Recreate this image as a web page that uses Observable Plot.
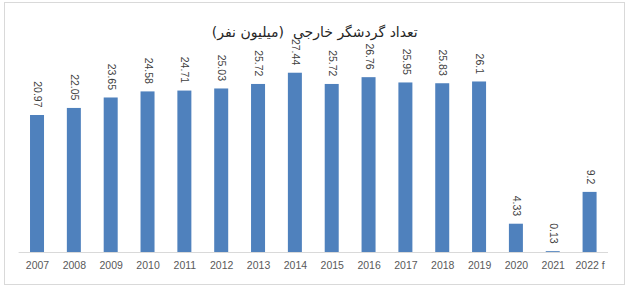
<!DOCTYPE html>
<html>
<head>
<meta charset="utf-8">
<script src="https://cdn.jsdelivr.net/npm/d3@7"></script>
<script src="https://cdn.jsdelivr.net/npm/@observablehq/plot@0.6"></script>
<style>
  html, body { margin: 0; padding: 0; background: #fff; }
  #wrap { position: relative; width: 628px; height: 286px; }
  #border { position: absolute; left: 4px; top: 2px; width: 619px; height: 281px; border: 1px solid #d9d9d9; pointer-events: none; }
</style>
</head>
<body>
<div id="wrap"><div id="border"></div></div>
<script>
const years = ["2007","2008","2009","2010","2011","2012","2013","2014","2015","2016","2017","2018","2019","2020","2021","2022 f"];
const tourists = [20.97, 22.05, 23.65, 24.58, 24.71, 25.03, 25.72, 27.44, 25.72, 26.76, 25.95, 25.83, 26.1, 4.33, 0.13, 9.2];
const title = "تعداد گردشگر خارجی  (میلیون نفر)";

const data = years.map((y, i) => ({year: y, value: tourists[i]}));

const chart = Plot.plot({
  width: 628,
  height: 286,
  marginLeft: 18.6,
  marginRight: 20,
  marginTop: 56,
  marginBottom: 34,
  style: {background: "transparent", fontFamily: "Liberation Sans, Arial, sans-serif"},
  x: {domain: years, paddingInner: 0.62, paddingOuter: 0.31, round: false, label: null, tickSize: 0, tickPadding: 9, fontSize: 10.5},
  y: {domain: [0, 30], axis: null},
  marks: [
    Plot.barY(data, {x: "year", y: "value", fill: "#4f81bd"}),
    Plot.ruleY([0], {stroke: "#d9d9d9", strokeWidth: 1}),
    Plot.text(data, {x: "year", y: "value", text: d => String(d.value), rotate: 90, textAnchor: "end", dy: -8, fill: "#404040", fontSize: 10.5}),
    Plot.text([title], {frameAnchor: "top", dy: -29, dx: 1, text: d => d, fontSize: 14, fill: "#262626", fontFamily: "DejaVu Sans, sans-serif"})
  ]
});
chart.querySelectorAll("g[aria-label='x-axis tick label'] text, g[aria-label='x-axis tick label']").forEach(e => { e.setAttribute("fill", "#595959"); e.style.fontSize = "10.5px"; });
document.getElementById("wrap").prepend(chart);
</script>
</body>
</html>
